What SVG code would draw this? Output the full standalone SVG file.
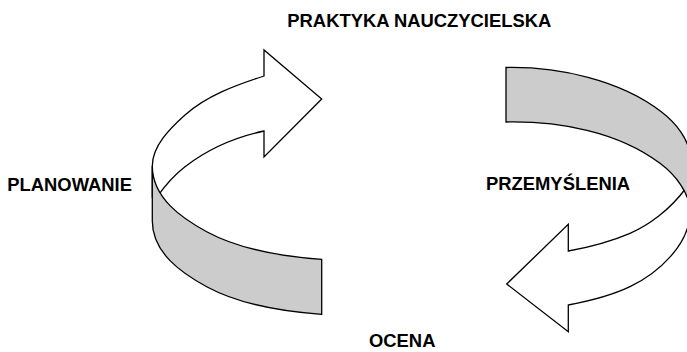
<svg xmlns="http://www.w3.org/2000/svg" width="687" height="352" viewBox="0 0 687 352">
  <style>
    .face { fill: #ffffff; stroke: #000000; stroke-width: 1.3; stroke-linejoin: miter; }
    .side { fill: #cccccc; stroke: #000000; stroke-width: 1.3; stroke-linejoin: miter; }
    .label { font-family: "Liberation Sans", Arial, sans-serif; font-weight: bold; font-size: 18.4px; fill: #000000; }
  </style>
  <rect width="687" height="352" fill="#ffffff"/>

  <!-- Two curved 3D ribbon arrows forming the cycle -->
  <g id="connectors">
    <g id="arrow-left">
      <!-- top face with arrowhead pointing right -->
      <path class="face" d="M152.3,166 C152.3,146 170.1,128.3 185,115 C206.7,95.7 235.8,85.1 264,76 L264,50 L321.7,99 L264,157 L264,131 C235.6,137 207.9,149 185,166.7 C173.9,175.2 165,185.5 157,197 L152.3,197 Z"/>
      <!-- outer side of the band -->
      <path class="side" d="M152.3,166 C152.3,198 182.1,218.4 206.7,231.7 C241,250.2 282.9,256.6 321.7,259.3 L321.7,314.3 C282.9,311.6 241,305.2 206.7,286.7 C182.1,273.4 152.3,253 152.3,221 Z"/>
    </g>
    <g id="arrow-right">
      <!-- top face with arrowhead pointing left -->
      <path class="face" d="M690,212 C690,244 658.8,272.9 630,286.7 C610.7,295.9 589.5,301.1 568.3,305 L568.3,331.7 L506.7,284 L568.3,224.3 L568.3,251 C590,247 612,241 630,233.3 C648,225.6 670,210 686,188 L690,188 Z"/>
      <!-- outer side of the band -->
      <path class="side" d="M506,67.5 C559,66.5 620,80 661,111.5 C676,123 690,140 690,158 L690,212 C690,193 675.2,174.7 660,163.3 C617.6,131.5 559,121 506,122 Z"/>
    </g>
  </g>

  <!-- Stage labels -->
  <g id="node-praktyka">
    <text class="label" x="287.3" y="26.7">PRAKTYKA NAUCZYCIELSKA</text>
  </g>
  <g id="node-przemyslenia">
    <text class="label" x="486" y="189.5">PRZEMYŚLENIA</text>
  </g>
  <g id="node-ocena">
    <text class="label" x="369" y="347">OCENA</text>
  </g>
  <g id="node-planowanie">
    <text class="label" x="7.3" y="191">PLANOWANIE</text>
  </g>
</svg>
